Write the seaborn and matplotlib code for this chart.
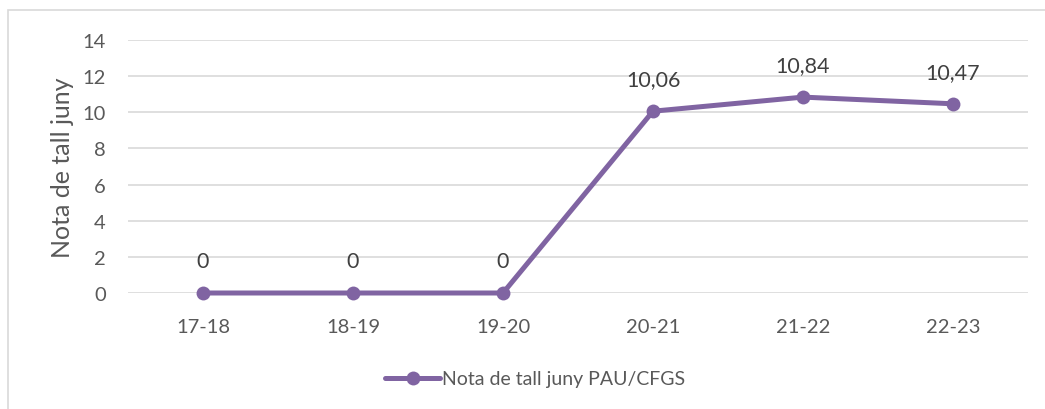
import matplotlib
matplotlib.use("Agg")
import matplotlib.pyplot as plt
import seaborn as sns
import pandas as pd
from matplotlib.patches import Rectangle

cursos = ["17-18", "18-19", "19-20", "20-21", "21-22", "22-23"]
notes = [0, 0, 0, 10.06, 10.84, 10.47]
etiquetes = ["0", "0", "0", "10,06", "10,84", "10,47"]
serie = "Nota de tall juny PAU/CFGS"

sns.set_theme(style="white")
plt.rcParams["font.family"] = ["Lato", "DejaVu Sans"]

color = "#8064A2"
gris = "#595959"

df = pd.DataFrame({"curs": cursos, "nota": notes, "serie": serie})

fig = plt.figure(figsize=(10.45, 4.10), dpi=100)
ax = fig.add_axes([128 / 1045, 1 - 294 / 410, 900 / 1045, 253 / 410])

sns.lineplot(data=df, x="curs", y="nota", hue="serie", palette=[color],
             marker="o", markersize=10, markeredgewidth=0, linewidth=3.6,
             sort=False, ax=ax, legend=True)
for ln in ax.lines:
    ln.set_clip_on(False)

# etiquetes de dades
for i, (v, t) in enumerate(zip(notes, etiquetes)):
    ax.annotate(t, (i, v), xytext=(0, 23), textcoords="offset points",
                ha="center", va="center", fontsize=15.5, color="#404040")

ax.set_xlim(-0.5, 5.5)
ax.set_ylim(0, 14)
ax.set_yticks(range(0, 15, 2))
ax.yaxis.grid(True, color="#D9D9D9", linewidth=1.2)
ax.set_axisbelow(True)
for s in ax.spines.values():
    s.set_visible(False)
ax.tick_params(axis="x", length=0, pad=18, labelsize=14.5, labelcolor=gris)
ax.tick_params(axis="y", length=0, pad=16, labelsize=14.5, labelcolor=gris)
ax.set_xlabel("")
ax.set_ylabel("Nota de tall juny", fontsize=18, color=gris, labelpad=6)

handles, labels = ax.get_legend_handles_labels()
ax.get_legend().remove()
fig.legend(handles, labels, loc="center", bbox_to_anchor=(0.512, 1 - 380 / 410),
           frameon=False, fontsize=14, labelcolor=gris, handlelength=2.85,
           handletextpad=0.1)

# marc del gràfic
fig.patches.append(Rectangle((8 / 1045, -0.05), 1.2, 1.05 - 11 / 410,
                             transform=fig.transFigure, fill=False,
                             edgecolor="#D9D9D9", linewidth=1.2))

fig.savefig("out.png", dpi=100)
